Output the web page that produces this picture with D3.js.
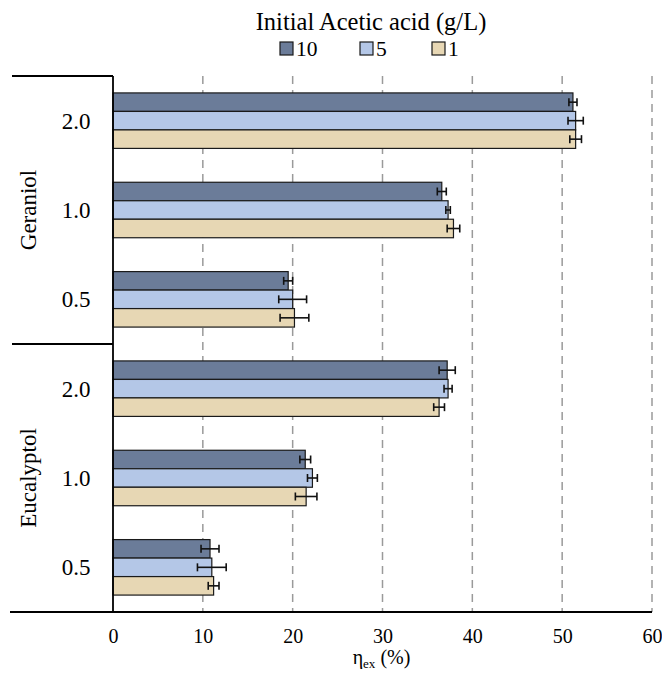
<!DOCTYPE html>
<html>
<head>
<meta charset="utf-8">
<script src="https://cdn.jsdelivr.net/npm/d3@7"></script>
<style>
  html, body { margin: 0; padding: 0; background: #fff; }
  svg { display: block; font-family: "Liberation Serif", "Times New Roman", serif; }
</style>
</head>
<body>
<svg id="chart" width="662" height="677"></svg>
<script>
// Extraction efficiency (%) by compound, dose and initial acetic acid level
const compounds = ["Geraniol", "Eucalyptol"];
const doses = ["2.0", "1.0", "0.5"];
const seriesNames = ["10", "5", "1"];
const seriesColors = ["#6b7c99", "#b4c7e7", "#e7d7b4"];

// values listed in order: Geraniol 2.0, 1.0, 0.5, Eucalyptol 2.0, 1.0, 0.5
const values10 = [51.2, 36.6, 19.5, 37.2, 21.4, 10.8];
const errors10 = [0.45, 0.5, 0.5, 0.9, 0.6, 1.0];
const values5 = [51.5, 37.3, 20.0, 37.3, 22.2, 11.0];
const errors5 = [0.85, 0.25, 1.55, 0.45, 0.55, 1.6];
const values1 = [51.5, 37.9, 20.2, 36.3, 21.5, 11.2];
const errors1 = [0.65, 0.7, 1.6, 0.6, 1.2, 0.6];

const xTicks = [0, 10, 20, 30, 40, 50, 60];

const seriesValues = [values10, values5, values1];
const seriesErrors = [errors10, errors5, errors1];

const rows = [];
compounds.forEach(c => doses.forEach(d => rows.push({ compound: c, dose: d, key: c + "|" + d })));

const svg = d3.select("#chart");

const plotLeft = 113, plotRight = 652, plotTop = 76, plotBottom = 612;

const x = d3.scaleLinear().domain([0, 60]).range([plotLeft, plotRight]);
const y = d3.scaleBand().domain(rows.map(r => r.key)).range([plotTop, plotBottom]).padding(0);
const ySeries = d3.scaleBand().domain(seriesNames).range([0, y.bandwidth()])
  .paddingInner(0).paddingOuter(0.915);

// dashed vertical gridlines
svg.append("g")
  .selectAll("line")
  .data(xTicks.filter(t => t > 0))
  .join("line")
  .attr("x1", d => x(d)).attr("x2", d => x(d))
  .attr("y1", plotTop).attr("y2", plotBottom)
  .attr("stroke", "#9a9a9a")
  .attr("stroke-width", 1.5)
  .attr("stroke-dasharray", "8,6");

// bars
const barG = svg.append("g");
seriesNames.forEach((s, si) => {
  barG.append("g")
    .selectAll("rect")
    .data(rows.map((r, i) => ({ row: r, v: seriesValues[si][i], e: seriesErrors[si][i] })))
    .join("rect")
    .attr("x", x(0))
    .attr("y", d => y(d.row.key) + ySeries(s))
    .attr("width", d => x(d.v) - x(0))
    .attr("height", ySeries.bandwidth())
    .attr("fill", seriesColors[si])
    .attr("stroke", "#1a1a1a")
    .attr("stroke-width", 1.2);
});

// error bars
seriesNames.forEach((s, si) => {
  const g = svg.append("g").attr("stroke", "#111").attr("stroke-width", 1.6);
  rows.forEach((r, i) => {
    const v = seriesValues[si][i], e = seriesErrors[si][i];
    const cy = y(r.key) + ySeries(s) + ySeries.bandwidth() / 2;
    g.append("line").attr("x1", x(v - e)).attr("x2", x(v + e)).attr("y1", cy).attr("y2", cy);
    g.append("line").attr("x1", x(v - e)).attr("x2", x(v - e)).attr("y1", cy - 4).attr("y2", cy + 4);
    g.append("line").attr("x1", x(v + e)).attr("x2", x(v + e)).attr("y1", cy - 4).attr("y2", cy + 4);
  });
});

// axis frame lines
const frame = svg.append("g").attr("stroke", "#000").attr("stroke-width", 1.8);
frame.append("line").attr("x1", plotLeft).attr("x2", plotLeft).attr("y1", plotTop).attr("y2", plotBottom);
frame.append("line").attr("x1", 12).attr("x2", plotLeft).attr("y1", plotTop).attr("y2", plotTop);
frame.append("line").attr("x1", 12).attr("x2", plotLeft)
  .attr("y1", y(compounds[1] + "|" + doses[0])).attr("y2", y(compounds[1] + "|" + doses[0]));
frame.append("line").attr("x1", 10).attr("x2", plotRight).attr("y1", plotBottom).attr("y2", plotBottom);

// x axis tick labels
const xAxis = d3.axisBottom(x).tickValues(xTicks).tickSize(0).tickPadding(17).tickFormat(d3.format("d"));
const xg = svg.append("g").attr("transform", `translate(0,${plotBottom})`).call(xAxis);
xg.select(".domain").remove();
xg.attr("font-family", null).attr("font-size", null);
xg.selectAll("text").attr("font-size", 20).attr("fill", "#000");

// x axis title: η_ex (%)
const xt = svg.append("text")
  .attr("x", (plotLeft + plotRight) / 2 - 1).attr("y", 664)
  .attr("text-anchor", "middle").attr("font-size", 20).attr("fill", "#000");
xt.append("tspan").text("η");
xt.append("tspan").attr("font-size", 13).attr("dy", 4).text("ex");
xt.append("tspan").attr("dy", -4).text(" (%)");

// dose labels
svg.append("g")
  .selectAll("text")
  .data(rows)
  .join("text")
  .attr("x", 76)
  .attr("y", d => y(d.key) + y.bandwidth() / 2)
  .attr("dy", "0.35em")
  .attr("text-anchor", "middle")
  .attr("font-size", 23)
  .text(d => d.dose);

// compound labels, rotated
compounds.forEach(c => {
  const y0 = y(c + "|" + doses[0]);
  const y1 = y(c + "|" + doses[doses.length - 1]) + y.bandwidth();
  const cy = (y0 + y1) / 2;
  svg.append("text")
    .attr("transform", `translate(36,${cy}) rotate(-90)`)
    .attr("text-anchor", "middle")
    .attr("font-size", 23)
    .text(c);
});

// legend title
const legendCx = 371;
svg.append("text")
  .attr("x", legendCx).attr("y", 30)
  .attr("text-anchor", "middle").attr("font-size", 24.5)
  .text("Initial Acetic acid (g/L)");

// legend entries
const legendX = [280, 360, 432];
const leg = svg.append("g");
seriesNames.forEach((s, i) => {
  leg.append("rect")
    .attr("x", legendX[i]).attr("y", 42)
    .attr("width", 13).attr("height", 13)
    .attr("fill", seriesColors[i]).attr("stroke", "#1a1a1a").attr("stroke-width", 1.2);
  leg.append("text")
    .attr("x", legendX[i] + 16).attr("y", 56)
    .attr("font-size", 21.5)
    .text(s);
});
</script>
</body>
</html>
